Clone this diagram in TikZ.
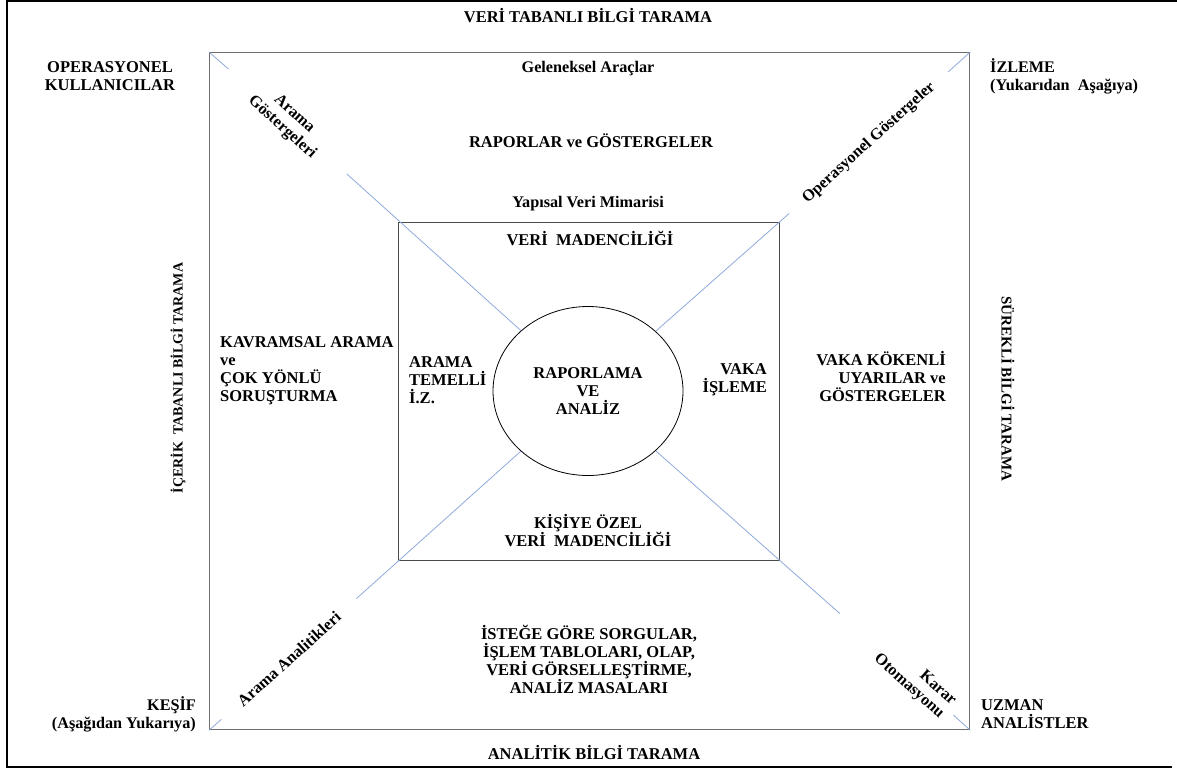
\documentclass[tikz,border=0pt]{standalone}
\usepackage{fontspec}
\setmainfont{Liberation Serif}
\usetikzlibrary{positioning,shapes.geometric}
\definecolor{frameGray}{HTML}{6E6E6E}
\definecolor{rectGray}{HTML}{4A4A4A}
\definecolor{diagBlue}{HTML}{8EA9DB}

\begin{document}
\begin{tikzpicture}[x=1pt,y=-1pt,
  txt/.style={font=\bfseries\fontsize{16.5}{18}\selectfont,inner sep=0pt},
  small/.style={font=\bfseries\fontsize{16.2}{18}\selectfont,inner sep=0pt},
  region/.style={draw=frameGray,line width=1.3pt,minimum width=760pt,
    minimum height=677pt,inner sep=0pt},
  core/.style={draw=rectGray,line width=1pt,minimum width=381pt,
    minimum height=338pt,inner sep=0pt},
  hub/.style={ellipse,draw=black,line width=0.8pt,minimum width=190pt,
    minimum height=169pt,inner sep=0pt},
  diag/.style={draw=diagBlue,line width=0.8pt},
  tag/.style={small,align=center,inner ysep=2pt}
]
\useasboundingbox (0,0) rectangle (1177,769);
\draw[line width=2pt] (1177,1) -- (7,1) -- (7,767) -- (1172,767);

% squares and hub
\node[region,anchor=north west] (outer) at (209,52) {};
\node[core] (inner) at (588.5,391) {};
\node[hub,txt,align=center] (ell) at (588,391) {RAPORLAMA\\VE\\ANALİZ};

% diagonal labels
\node[tag,rotate=-42,inner xsep=36pt] (searchInd) at (288,121) {Arama\\Göstergeleri};
\node[tag,rotate=42,inner xsep=20pt] (opInd) at (869,143) {Operasyonel Göstergeler};
\node[tag,rotate=42,inner xsep=24pt] (searchAn) at (289,659) {Arama Analitikleri};
\node[tag,rotate=-42,inner xsep=8pt,text width=136pt,align=right] (decAuto)
  at (897,664) {Karar\\Otomasyonu};

% diagonals
\draw[diag] (outer.north west) -- (searchInd);
\draw[diag] (searchInd) -- (ell);
\draw[diag] (outer.north east) -- (opInd);
\draw[diag] (opInd) -- (ell);
\draw[diag] (outer.south west) -- (searchAn);
\draw[diag] (searchAn) -- (ell);
\draw[diag] (outer.south east) -- (decAuto);
\draw[diag] (decAuto) -- (ell);

% inside the squares
\node[txt] (dbScan) at (588,16) {VERİ TABANLI BİLGİ TARAMA};
\node[small] (tradTools) at (588,69) {Geleneksel Araçlar};
\node[txt] (reports) at (591,141) {RAPORLAR ve GÖSTERGELER};
\node[small] (structArch) at (588,204) {Yapısal Veri Mimarisi};
\node[txt] (dataMining) at (590,238) {VERİ\ \ MADENCİLİĞİ};
\node[txt,align=left,anchor=west] (searchBI) at (409,380) {ARAMA\\TEMELLİ\\İ.Z.};
\node[txt,align=right,anchor=east] (caseProc) at (767,380) {VAKA\\İŞLEME};
\node[txt,align=center] (persMining) at (588,531) {KİŞİYE ÖZEL\\VERİ\ \ MADENCİLİĞİ};
\node[txt,align=left,anchor=west] (concSearch) at (220,371)
  {KAVRAMSAL ARAMA\\ve\\ÇOK YÖNLÜ\\SORUŞTURMA};
\node[txt,align=right,anchor=east] (caseAlerts) at (946,377)
  {VAKA KÖKENLİ\\UYARILAR ve\\GÖSTERGELER};
\node[txt,align=center] (adhoc) at (589,659)
  {İSTEĞE GÖRE SORGULAR,\\İŞLEM TABLOLARI, OLAP,\\VERİ GÖRSELLEŞTİRME,\\ANALİZ MASALARI};

% outer labels
\node[txt,font=\bfseries\fontsize{14}{16}\selectfont,rotate=90] (contentScan)
  at (178,378) {İÇERİK\ \ TABANLI BİLGİ TARAMA};
\node[txt,font=\bfseries\fontsize{15}{17}\selectfont,rotate=-90] (contScan)
  at (1008,389) {SÜREKLİ BİLGİ TARAMA};
\node[txt,align=center] (opUsers) at (110,76) {OPERASYONEL\\KULLANICILAR};
\node[small,align=left,anchor=west] (monitor) at (990,76) {İZLEME\\(Yukarıdan\ \ Aşağıya)};
\node[small,align=right,anchor=east] (discovery) at (196,714) {KEŞİF\\(Aşağıdan Yukarıya)};
\node[txt,align=left,anchor=west] (experts) at (981,714) {UZMAN\\ANALİSTLER};
\node[txt] (anScan) at (594,752) {ANALİTİK BİLGİ TARAMA};
\end{tikzpicture}
\end{document}
